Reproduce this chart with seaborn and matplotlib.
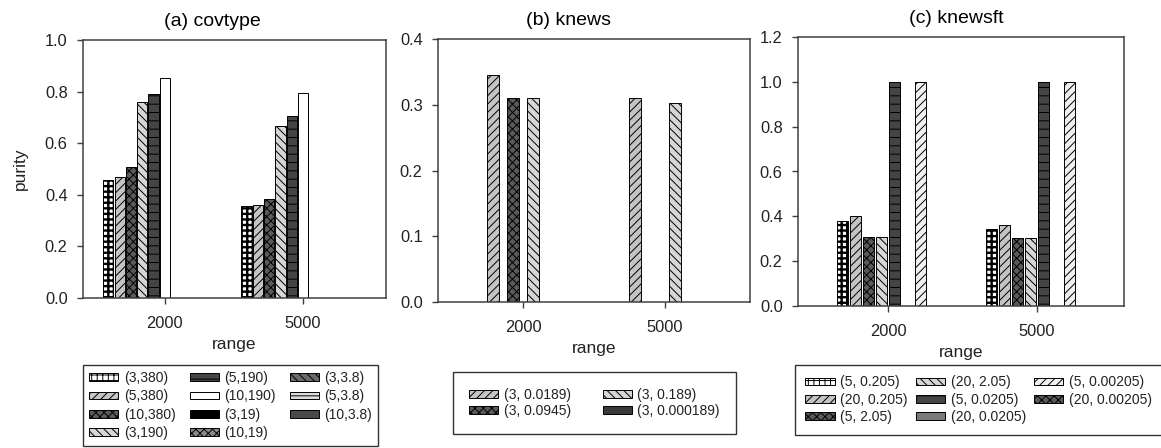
import numpy as np
import pandas as pd
import matplotlib
matplotlib.use("Agg")
import matplotlib.pyplot as plt
from matplotlib.patches import Patch
import seaborn as sns

# ---------------- data ----------------
ranges = ["2000", "5000"]

cov_series = ["(3,380)", "(5,380)", "(10,380)", "(3,190)", "(5,190)", "(10,190)",
              "(3,19)", "(10,19)", "(3,3.8)", "(5,3.8)", "(10,3.8)"]
cov_2000 = [0.457, 0.468, 0.509, 0.761, 0.789, 0.851, 0, 0, 0, 0, 0]
cov_5000 = [0.357, 0.362, 0.385, 0.667, 0.707, 0.796, 0, 0, 0, 0, 0]

knews_series = ["(3, 0.0189)", "(3, 0.0945)", "(3, 0.189)", "(3, 0.000189)"]
knews_2000 = [0.345, 0.31, 0.31, 0]
knews_5000 = [0.31, 0, 0.303, 0]

knewsft_series = ["(5, 0.205)", "(20, 0.205)", "(5, 2.05)", "(20, 2.05)",
                  "(5, 0.0205)", "(20, 0.0205)", "(5, 0.00205)", "(20, 0.00205)"]
knewsft_2000 = [0.379, 0.402, 0.309, 0.309, 1.0, 0, 1.0, 0]
knewsft_5000 = [0.344, 0.363, 0.305, 0.305, 1.0, 0, 1.0, 0]

titles = ["(a) covtype", "(b) knews", "(c) knewsft"]

# ---------------- styles: (face, hatch, hatch line width) ----------------
CHECK = ("white", "+++", 1.7)
DIAG = ("#c4c4c4", "////", 0.7)
XDARK = ("#5a5a5a", "xxxx", 0.7)
BACK = ("#d6d6d6", "\\\\\\\\", 0.7)
HORIZ = ("#454545", "--", 0.7)
cov_styles = [CHECK, DIAG, XDARK, BACK, HORIZ, ("white", "", 0.7),
              ("black", "", 0.7), ("#8a8a8a", "xxxx", 0.7),
              ("#6a6a6a", "\\\\\\\\", 0.7), ("#dcdcdc", "--", 0.7),
              ("#4a4a4a", "", 0.7)]
knews_styles = [DIAG, XDARK, BACK, ("#3a3a3a", "", 0.7)]
knewsft_styles = [CHECK, DIAG, XDARK, BACK, HORIZ, ("#7a7a7a", "", 0.7),
                  ("#f0f0f0", "////", 0.7), ("#5a5a5a", "xxxx", 0.7)]

sns.set_theme(style="ticks")
plt.rcParams["font.family"] = ["Liberation Sans", "DejaVu Sans"]
plt.rcParams["hatch.linewidth"] = 0.7
TXT = "#222222"
SP = "#404040"

fig = plt.figure(figsize=(11.61, 4.48), dpi=100)
W, H = 1161.0, 448.0


def ax_at(l, r, t, b):
    return fig.add_axes([l / W, 1 - b / H, (r - l) / W, (b - t) / H])


def style_patch(patch, fc, hatch, hlw):
    patch.set_facecolor(fc)
    patch.set_hatch(hatch)
    patch.set_edgecolor("black")
    if hasattr(patch, "set_hatch_linewidth"):
        patch.set_hatch_linewidth(hlw)


panels = [
    dict(series=cov_series, v1=cov_2000, v2=cov_5000, styles=cov_styles,
         box=(83, 386, 40, 298), width=0.9, gap=0.1, ylim=1.0, step=0.2,
         xlim=(-0.592, 1.60), tx=0.426, ylabel="purity",
         leg=dict(pos=(83, 365), ncol=3, labelspacing=0.3, borderpad=0.45,
                  columnspacing=1.0)),
    dict(series=knews_series, v1=knews_2000, v2=knews_5000, styles=knews_styles,
         box=(438, 750, 39, 302), width=0.563, gap=0.4, ylim=0.4, step=0.1,
         xlim=(-0.599, 1.599), tx=0.417, ylabel=None,
         leg=dict(pos=(453, 372), ncol=2, labelspacing=0.15, borderpad=1.15,
                  columnspacing=2.3)),
    dict(series=knewsft_series, v1=knewsft_2000, v2=knewsft_5000, styles=knewsft_styles,
         box=(798, 1124, 37, 306), width=0.70, gap=0.15, ylim=1.2, step=0.2,
         xlim=(-0.604, 1.584), tx=0.485, ylabel=None,
         leg=dict(pos=(795, 365), ncol=3, labelspacing=0.25, borderpad=0.75,
                  columnspacing=0.6)),
]

for p, title in zip(panels, titles):
    ax = ax_at(*p["box"])
    df = pd.DataFrame({
        "range": [ranges[0]] * len(p["series"]) + [ranges[1]] * len(p["series"]),
        "series": list(p["series"]) * 2,
        "purity": list(p["v1"]) + list(p["v2"]),
    })
    sns.barplot(data=df, x="range", y="purity", hue="series", hue_order=p["series"],
                order=ranges, width=p["width"], gap=p["gap"], errorbar=None,
                legend=False, edgecolor="black", linewidth=0.7, ax=ax)
    for cont, (fc, hatch, hlw) in zip(ax.containers, p["styles"]):
        for bar in cont:
            style_patch(bar, fc, hatch, hlw)
            if bar.get_height() == 0:
                bar.set_visible(False)
    ax.set_ylim(0, p["ylim"])
    ax.set_xlim(*p["xlim"])
    yt = np.round(np.arange(0, p["ylim"] + 1e-9, p["step"]), 2)
    ax.set_yticks(yt)
    ax.set_yticklabels([f"{v:.1f}" for v in yt])
    ax.tick_params(axis="both", direction="out", length=4, width=1.0, color=SP,
                   labelsize=11.8, labelcolor=TXT)
    ax.tick_params(axis="y", pad=7)
    ax.tick_params(axis="x", pad=9)
    for s in ax.spines.values():
        s.set_visible(True)
        s.set_color(SP)
        s.set_linewidth(1.1)
    ax.set_xlabel("range", fontsize=12.5, color=TXT, labelpad=4)
    if p["ylabel"]:
        ax.set_ylabel(p["ylabel"], fontsize=12.5, color=TXT, labelpad=12)
    else:
        ax.set_ylabel("")
    ax.set_title(title, fontsize=14, color="black", x=p["tx"], pad=10)

    handles = []
    for fc, h, hlw in p["styles"]:
        hp = Patch(facecolor=fc, edgecolor="black", hatch=h, linewidth=0.7)
        if hasattr(hp, "set_hatch_linewidth"):
            hp.set_hatch_linewidth(hlw)
        handles.append(hp)
    lg = p["leg"]
    leg = fig.legend(handles, p["series"], loc="upper left",
                     bbox_to_anchor=(lg["pos"][0] / W, 1 - lg["pos"][1] / H),
                     ncol=lg["ncol"], fontsize=10, frameon=True, fancybox=False,
                     edgecolor="#333333", framealpha=1, handlelength=2.1,
                     handleheight=0.5, handletextpad=0.4,
                     labelspacing=lg["labelspacing"], borderpad=lg["borderpad"],
                     columnspacing=lg["columnspacing"], borderaxespad=0)
    leg.get_frame().set_linewidth(1.0)
    for t in leg.get_texts():
        t.set_color(TXT)

fig.savefig("out.png", dpi=100)
